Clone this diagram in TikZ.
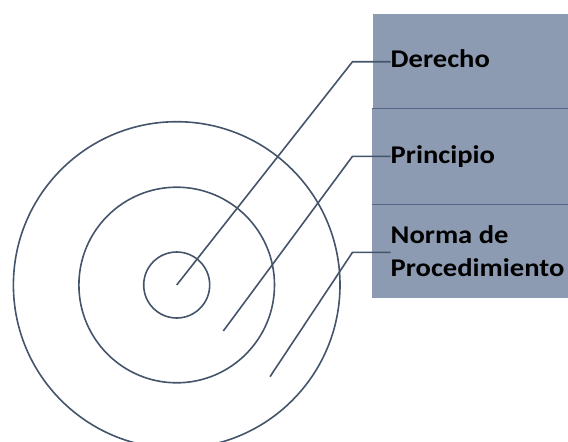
\documentclass[tikz,border=0pt]{standalone}
\usepackage{fontspec}
\setmainfont{Carlito}
\newfontfamily\lblfont{Carlito}[FakeStretch=1.12]
\usetikzlibrary{positioning}
\definecolor{slate}{HTML}{44546A}
\definecolor{panel}{RGB}{140,155,178}
\definecolor{seam}{RGB}{84,102,134}

\begin{document}
\begin{tikzpicture}[x=1pt,y=-1pt,
  ring/.style={draw=slate,line width=1.6pt,circle,inner sep=0pt},
  lead/.style={draw=slate,line width=1.6pt},
  lbl/.style={anchor=base west,inner sep=0pt,align=left,
    font=\lblfont\bfseries\fontsize{25.5}{33.4}\selectfont}]
\useasboundingbox (0,0) rectangle (568,442);

\fill[panel] (373,14) rectangle (568,108.7);
\fill[panel] (372,108.7) rectangle (568,204);
\fill[panel] (372,204) rectangle (568,298);
\draw[seam,line width=0.8pt] (372,108.7) -- (568,108.7);
\draw[seam,line width=0.8pt] (372,204) -- (568,204);

\node[ring,minimum size=326.6pt] (outer) at (176.7,285) {};
\node[ring,minimum size=195.6pt] (middle) at (176.7,285) {};
\node[ring,minimum size=66pt] (inner) at (176.7,285) {};

\node[lbl] (der) at (390.5,67.7) {Derecho};
\node[lbl] (pri) at (390.5,163.5) {Principio};
\node[lbl] (nor) at (390.5,276.7) {Norma de\\Procedimiento};

\coordinate (p0) at (223.3,331);
\coordinate (n0) at (270,376.7);
\coordinate (e1) at (352.5,61.7);
\coordinate (e2) at (352.5,156.3);
\coordinate (e3) at (352.5,252.3);

\draw[lead] (inner.center) -- (e1) -- (e1 -| der.west);
\draw[lead] (p0) -- (e2) -- (e2 -| pri.west);
\draw[lead] (n0) -- (e3) -- (e3 -| nor.west);
\end{tikzpicture}
\end{document}
